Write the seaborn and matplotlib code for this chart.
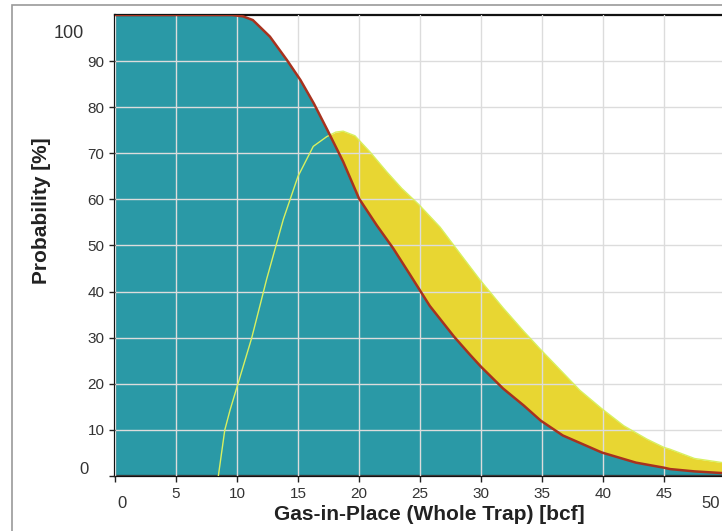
import matplotlib
matplotlib.use("Agg")
import matplotlib.pyplot as plt
import seaborn as sns
import pandas as pd
from matplotlib.patches import Rectangle

# exceedance curve (teal area, red line)
exceed_x = [0, 5, 9.6, 10.5, 11.3, 12.7, 14.1, 15.2, 16.3, 17.4, 18.7, 20.0,
            21.45, 22.8, 24.2, 25.8, 27.8, 29.1, 30.0, 31.8, 33.5, 34.9,
            36.7, 39.9, 42.7, 45.0, 45.5, 47.5, 50.0]
exceed_p = [100, 100, 100, 99.7, 98.9, 95.3, 90.2, 85.9, 80.8, 75.1, 68.2,
            60.2, 54.4, 49.4, 43.6, 36.9, 30.2, 26.3, 23.7, 19.0, 15.3, 12.0,
            8.8, 5.1, 2.9, 1.8, 1.5, 1.0, 0.6]

# frequency curve (yellow area, yellow-green line)
freq_x = [8.47, 9.0, 9.43, 10.1, 11.2, 12.0, 12.43, 13.8, 15.0, 16.25, 17.35,
          18.1, 18.7, 19.67, 20.9, 22.27, 23.5, 24.86, 26.64, 28.55, 29.9,
          31.8, 33.5, 34.9, 36.5, 38.1, 39.9, 41.7, 43.6, 45.0, 45.5, 47.5,
          49.8, 50.0]
freq_p = [0, 10.0, 14.3, 20.2, 29.9, 38.2, 42.7, 55.7, 65.0, 71.5, 73.6,
          74.6, 74.8, 73.8, 70.3, 66.0, 62.4, 59.0, 54.0, 47.3, 42.6, 36.5,
          31.4, 27.4, 23.0, 18.6, 14.6, 10.9, 8.0, 6.2, 5.8, 3.8, 2.9, 2.8]

x_ticks = [5, 10, 15, 20, 25, 30, 35, 40, 45]
y_ticks = [10, 20, 30, 40, 50, 60, 70, 80, 90]

TEAL = "#2a99a6"
YELLOW = "#e8d632"
RED = "#a8321e"
LIME = "#d8f060"

sns.set_theme(style="white")
plt.rcParams['font.family'] = ['Liberation Sans', 'DejaVu Sans']

exceed_df = pd.DataFrame({"gip": exceed_x, "prob": exceed_p})
freq_df = pd.DataFrame({"gip": freq_x, "prob": freq_p})

fig = plt.figure(figsize=(7.22, 5.31), dpi=100)
fig.patch.set_facecolor("white")
ax = fig.add_axes([115 / 722, 55 / 531, 610 / 722, 461 / 531])

ax.fill_between(freq_df["gip"], 0, freq_df["prob"], color=YELLOW,
                linewidth=0, zorder=1)
ax.fill_between(exceed_df["gip"], 0, exceed_df["prob"], color=TEAL,
                linewidth=0, zorder=2)
ax.grid(True, color="#dcdcdc", linewidth=1.0, zorder=3)
ax.set_axisbelow(False)
sns.lineplot(data=freq_df, x="gip", y="prob", color=LIME, linewidth=1.0,
             ax=ax, zorder=4)
sns.lineplot(data=exceed_df, x="gip", y="prob", color=RED, linewidth=1.8,
             ax=ax, zorder=5)

ax.set_xlim(0, 50)
ax.set_ylim(0, 100)
ax.set_xticks([0] + x_ticks + [50])
ax.set_xticklabels([""] + [str(t) for t in x_ticks] + [""])
ax.set_yticks([0] + y_ticks)
ax.set_yticklabels([""] + [str(t) for t in y_ticks])
ax.tick_params(axis="both", which="both", direction="out", length=4,
               width=1, colors="#222222", labelsize=11, labelcolor="#333333",
               left=True, bottom=True)
ax.tick_params(axis="x", pad=4)

# the odd end labels of the original chart
ax.annotate("100", (0, 100), xytext=(-44, -13), textcoords="offset points",
            fontsize=13, color="#333333", va="center", ha="left",
            annotation_clip=False)
ax.annotate("0", (0, 0), xytext=(-26, 5), textcoords="offset points",
            fontsize=12, color="#333333", va="center", ha="left",
            annotation_clip=False)
ax.annotate("0", (0, 0), xytext=(2, -20), textcoords="offset points",
            fontsize=12, color="#333333", va="center", ha="left",
            annotation_clip=False)
ax.annotate("50", (50, 0), xytext=(-17, -20), textcoords="offset points",
            fontsize=12, color="#333333", va="center", ha="left",
            annotation_clip=False)

for side in ["left", "bottom", "top"]:
    ax.spines[side].set_visible(True)
    ax.spines[side].set_color("#111111")
    ax.spines[side].set_linewidth(1.6)
ax.spines["right"].set_visible(False)

ax.set_xlabel("Gas-in-Place (Whole Trap) [bcf]", fontsize=15,
              fontweight="bold", color="#222222")
ax.set_ylabel("Probability [%]", fontsize=15, fontweight="bold",
              color="#222222")
ax.xaxis.set_label_coords(0.515, -0.062)
ax.yaxis.set_label_coords(-0.105, 0.575)

# outer window frame of the scanned chart
fig.patches.append(Rectangle((12 / 722, -0.05), 1.0, 1.04,
                             transform=fig.transFigure, fill=False,
                             edgecolor="#9a9a9a", linewidth=1.2))

fig.savefig("out.png", dpi=100)
